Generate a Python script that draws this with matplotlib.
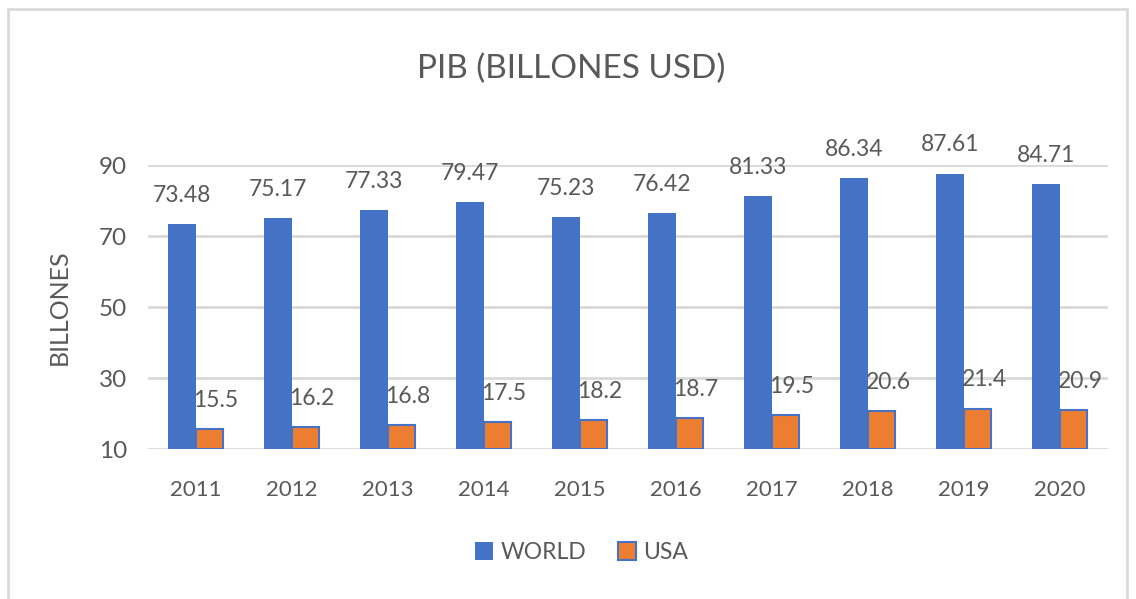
import numpy as np
import matplotlib.pyplot as plt
from matplotlib.patches import Rectangle

years = ["2011", "2012", "2013", "2014", "2015", "2016", "2017", "2018", "2019", "2020"]
world = [73.48, 75.17, 77.33, 79.47, 75.23, 76.42, 81.33, 86.34, 87.61, 84.71]
usa = [15.5, 16.2, 16.8, 17.5, 18.2, 18.7, 19.5, 20.6, 21.4, 20.9]

plt.rcParams['font.family'] = ['Lato', 'DejaVu Sans']
txt = '#595959'
blue = '#4472c4'
orange = '#ed7d31'

fig = plt.figure(figsize=(11.36, 5.99), dpi=100)
ax = fig.add_axes([0.130, 0.2504, 0.845, 0.4741])

x = np.arange(len(years))
w = 0.285
b1 = ax.bar(x - w / 2, np.array(world) - 10, w, bottom=10, color=blue, zorder=3)
b2 = ax.bar(x + w / 2, np.array(usa) - 10, w, bottom=10, color=orange,
            edgecolor=blue, linewidth=1.5, zorder=3)

for i in range(len(years)):
    ax.annotate(f"{world[i]:.2f}", (x[i] - w / 2, world[i]), xytext=(0, 13),
                textcoords='offset points', ha='center', va='bottom',
                fontsize=16.5, color=txt)
    ax.annotate(f"{usa[i]}", (x[i] + w / 2 + 0.07, usa[i]), xytext=(0, 13),
                textcoords='offset points', ha='center', va='bottom',
                fontsize=16.5, color=txt)

ax.set_ylim(10, 90)
ax.set_xlim(-0.5, len(years) - 0.5)
ax.set_yticks([10, 30, 50, 70, 90])
ax.set_xticks(x)
ax.set_xticklabels(years)
ax.tick_params(axis='both', length=0, labelsize=16, labelcolor=txt)
ax.tick_params(axis='y', labelsize=17.5, pad=15)
ax.tick_params(axis='x', pad=22)
ax.yaxis.grid(True, color='#d9d9d9', linewidth=2, zorder=0)
for s in ax.spines.values():
    s.set_visible(False)

ax.set_ylabel("BILLONES", fontsize=18, color=txt, labelpad=20)
fig.text(0.503, 0.885, "PIB (BILLONES USD)", ha='center', va='center',
         fontsize=24, color=txt)

fig.legend([b1, b2], ["WORLD", "USA"], loc='center', bbox_to_anchor=(0.512, 0.078),
           ncol=2, frameon=False, fontsize=16.5, labelcolor=txt,
           handlelength=0.8, handleheight=0.8, handletextpad=0.3, columnspacing=1.4)

fig.patches.append(Rectangle((0.007, -0.01), 0.985, 0.995, transform=fig.transFigure,
                             fill=False, edgecolor='#d9d9d9', linewidth=2))

fig.savefig("out.png", dpi=100)
